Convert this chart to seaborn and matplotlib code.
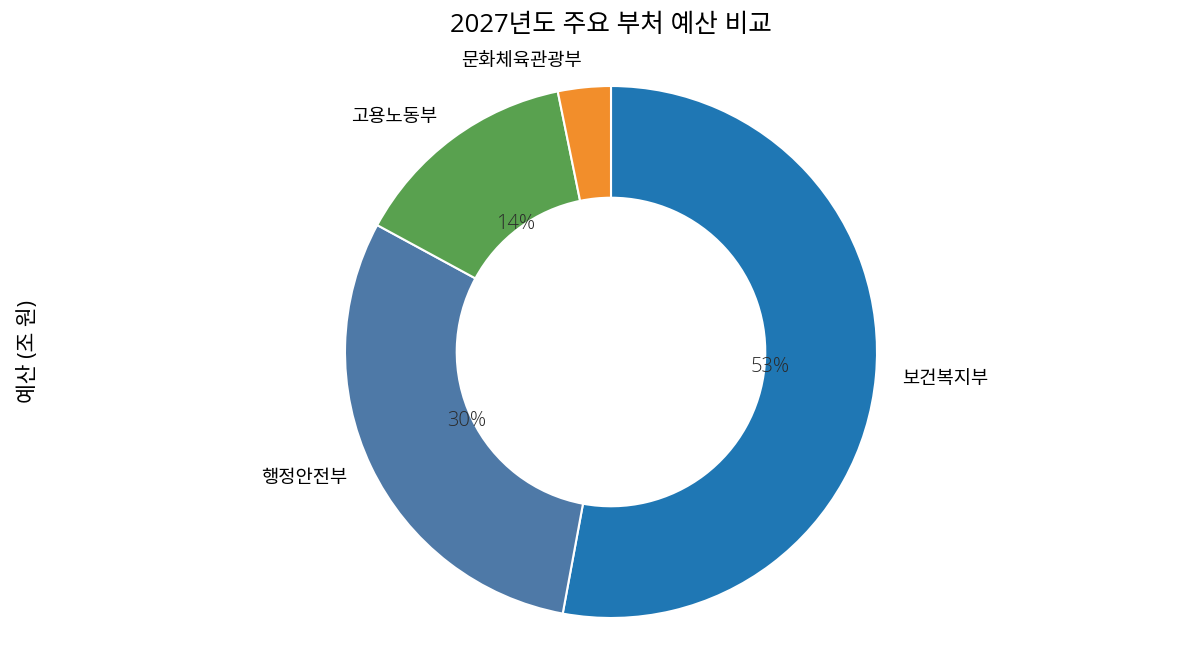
import matplotlib
matplotlib.use("Agg")
import matplotlib.pyplot as plt
import seaborn as sns

departments = ["보건복지부", "행정안전부", "고용노동부", "문화체육관광부"]
budgets = [122.0, 69.2, 32.0, 7.4]  # 조 원
colors = ["#1f77b4", "#4e79a7", "#59a14f", "#f28e2b"]

sns.set_theme(style="white")
plt.rcParams["font.family"] = ["Open Sans", "Noto Sans CJK KR", "DejaVu Sans"]
plt.rcParams["text.color"] = "black"
plt.rcParams["axes.labelcolor"] = "black"

fig = plt.figure(figsize=(11.85, 6.6), dpi=100)
ax = fig.add_axes([111 / 1185, 8 / 660, 1000 / 1185, 600 / 660])


def pct_label(p):
    return f"{p:.0f}%" if p >= 5 else ""


wedges, texts, autotexts = ax.pie(
    budgets,
    labels=departments,
    colors=colors,
    startangle=90,
    counterclock=False,
    autopct=pct_label,
    pctdistance=0.6,
    labeldistance=1.1,
    wedgeprops=dict(width=0.42, edgecolor="white", linewidth=1.5),
    textprops=dict(fontsize=13.5),
)
for t in autotexts:
    t.set_color("#2b2b2b")
    t.set_fontsize(14.5)
    t.set_fontweight("light")

ax.set_xlim(-500 / 266, 500 / 266)
ax.set_ylim(-300 / 266, 300 / 266)
ax.set_ylabel("예산 (조 원)", fontsize=15.5)
ax.yaxis.set_label_coords(-0.072, 0.5)

fig.suptitle("2027년도 주요 부처 예산 비교", fontsize=18.5,
             x=611 / 1185, y=1 - 25 / 660, va="center")

fig.savefig("out.png", dpi=100)
